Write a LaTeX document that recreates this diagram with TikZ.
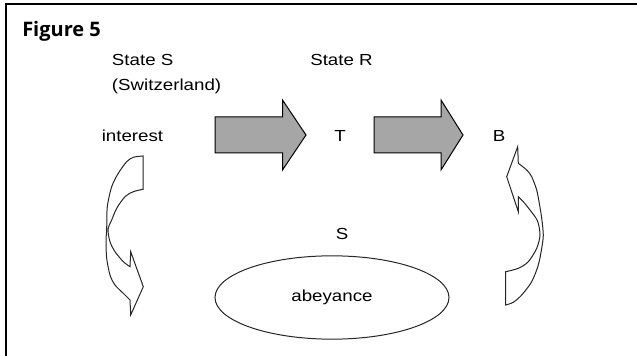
\documentclass[tikz,border=0pt]{standalone}
\usepackage{fontspec}
\setmainfont{Liberation Sans}
\newfontfamily\labelfont[FakeStretch=1.17]{Liberation Sans}
\newfontfamily\titlefont{Open Sans}
\usetikzlibrary{shapes.geometric}
\definecolor{blockgray}{RGB}{166,166,166}
\tikzset{
  lbl/.style={inner sep=0pt, anchor=base west, font=\labelfont\fontsize{12pt}{14pt}\selectfont},
  blockarrow/.style={draw=black, line width=0.75pt, fill=blockgray, line join=miter},
  curvearrow/.style={draw=black!85, line width=0.75pt, fill=white, line join=miter},
}
\begin{document}
\begin{tikzpicture}[x=0.75pt, y=-0.75pt]
\useasboundingbox (0,0) rectangle (637,356);
% frame
\draw[line width=1pt] (6,356) -- (6,4) -- (637,4);
% title
\node[inner sep=0pt, anchor=base west, font=\titlefont\bfseries\fontsize{15pt}{18pt}\selectfont] (title) at (22,36.7) {Figure 5};
% labels
\node[lbl] (stateS) at (111.7,65.7) {State S};
\node[lbl] (swiss) at (111.7,90.7) {(Switzerland)};
\node[lbl] (stateR) at (310,65.3) {State R};
\node[lbl] (interest) at (101.5,141.7) {interest};
\node[lbl] (T) at (334,141.7) {T};
\node[lbl] (B) at (492.7,141.7) {B};
\node[lbl] (S) at (335.5,239.3) {S};
% block arrows
\draw[blockarrow] (215,117) -- (282.5,117) -- (282.5,100) -- (306,135) -- (282.5,170) -- (282.5,153) -- (215,153) -- cycle;
\draw[blockarrow] (374,117) -- (441,117) -- (441,100) -- (463,135) -- (441,170) -- (441,153) -- (374,153) -- cycle;
% ellipse
\node[ellipse, draw=black!85, line width=0.75pt, minimum width=175.5pt, minimum height=62.5pt, inner sep=0pt,
      font=\labelfont\fontsize{12pt}{14pt}\selectfont] (abey) at (332,297.5) {abeyance};
% left curved arrow
\draw[curvearrow] (143,156) -- (143,189.3)
  -- plot[smooth] coordinates {(143,189.3) (133.3,191.7) (125,196.7) (116.7,208.3) (111.7,220) (108,229) (110,241.7) (115,251.7) (123.3,261.7) (130,266.7)}
  -- (130.7,251.7) -- (143.3,286.7) -- (130.7,315) -- (130,300)
  -- plot[smooth] coordinates {(130,300) (123.3,293.3) (115,285) (110,275) (106.7,258.3) (106,241.7) (106.7,228.3) (107.3,206.7) (111.7,186.7) (118.3,173.3) (126.7,161.7) (133.3,157.3) (143,156)}
  -- cycle;
% right curved arrow
\draw[curvearrow] (517.7,146.7) -- (518.3,163.3)
  -- plot[smooth] coordinates {(518.3,163.3) (526.7,170) (531.7,176.7) (536.7,190) (539.3,203.3) (541.7,218.3) (543.3,235) (541.7,248.3) (538.3,265) (531.7,281.7) (521.7,295) (513.3,302.3) (505.7,305)}
  -- (505.7,271.7)
  -- plot[smooth] coordinates {(505.7,271.7) (518.3,268.3) (528.3,261.7) (536.7,248.3) (540,235) (537.5,221) (530,210) (523.3,201.7) (518.3,196.7)}
  -- (518.3,211.7) -- (506.7,176.7) -- cycle;
\end{tikzpicture}
\end{document}
